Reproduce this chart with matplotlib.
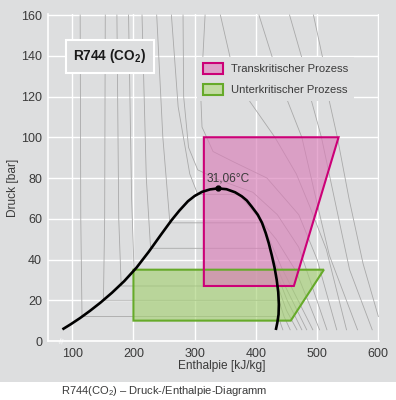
import matplotlib
matplotlib.use('Agg')
import matplotlib.pyplot as plt
from matplotlib.patches import Polygon, Patch, Rectangle
from matplotlib import font_manager

names = {f.name for f in font_manager.fontManager.ttflist}
FONT = 'Liberation Sans Narrow' if 'Liberation Sans Narrow' in names else 'Liberation Sans'
NARROW = FONT == 'Liberation Sans Narrow'
plt.rcParams['font.family'] = [FONT, 'DejaVu Sans']
plt.rcParams['mathtext.fontset'] = 'custom'
plt.rcParams['mathtext.rm'] = FONT
plt.rcParams['mathtext.bf'] = FONT + ':bold'

# ---------------- data ----------------
x_ticks = [100, 200, 300, 400, 500, 600]
y_ticks = [0, 20, 40, 60, 80, 100, 120, 140, 160]

# saturation (two-phase) curve, enthalpy [kJ/kg] / pressure [bar]
sat_h = [84, 98, 113, 129, 146, 165, 185, 205, 225, 245, 262, 275, 289, 300, 312, 325, 338,
         352, 366, 377, 385, 393, 403, 410, 416, 421, 426, 430.5, 434, 436.5, 437.5,
         437, 435, 432.5]
sat_p = [5.7, 8.3, 11.3, 14.8, 18.8, 23.7, 29.4, 36.0, 43.8, 52.2, 59.2, 64.0, 68.6, 71.2,
         73.2, 74.4, 74.9, 74.5, 73, 71, 69, 66, 62, 58, 53, 48, 42, 36, 30, 24, 18, 13, 9, 5.4]
crit_h = [338]
crit_p = [74.9]
crit_label = '31,06°C'

# process areas
trans_h = [315, 315, 535, 462]
trans_p = [27, 100, 100, 27]
sub_h = [200, 200, 511, 457]
sub_p = [10, 35, 35, 10]

# background isotherms (h lists / p lists)
iso_h = [
    [113, 114, 116, 437, 441, 444],
    [154, 153, 151, 437.5, 446, 456],
    [173, 176, 180, 435.5, 450, 467],
    [192, 197, 201, 431.5, 451, 475],
    [214, 221, 228, 421.5, 446, 483],
    [238, 248, 259.5, 410, 442, 493],
    [262, 273, 292, 305, 372, 400, 433, 466, 504],
    [281, 282, 290, 305, 340, 395, 435, 470, 516],
    [317, 310, 312, 330, 363, 418, 470, 500, 532],
    [342, 358, 390, 431, 466, 488, 515, 548],
    [405, 427, 452, 475, 498, 520, 566],
    [455, 475, 491, 507, 531, 553, 590],
    [494, 509, 520, 533, 552, 575, 600],
]
iso_p = [
    [160, 60, 12, 12, 8, 5.5],
    [160, 60, 20, 20, 12, 5.5],
    [160, 60, 27, 27, 15, 5.5],
    [160, 70, 35, 35, 20, 5.5],
    [160, 80, 45.5, 45.5, 28, 5.5],
    [160, 100, 58, 58, 36, 5.5],
    [160, 115, 82, 72, 72, 62, 50, 34, 5.5],
    [160, 120, 95, 84, 79, 73, 62, 46, 5.5],
    [160, 120, 105, 93, 88, 80, 62, 40, 5.5],
    [160, 139, 117.6, 100, 82, 66, 45, 5.5],
    [160, 139, 117.6, 100, 70, 42, 5.5],
    [160, 139, 117.6, 100, 66, 35, 5.5],
    [160, 139, 117.6, 100, 70, 38, 12],
]

labels = ['Transkritischer Prozess', 'Unterkritischer Prozess']

# ---------------- style ----------------
BG = '#dddedf'
TXT = '#3a3a3a'
PINK_FC = '#d97fb8'
PINK_EC = '#cc0077'
GREEN_FC = '#a3d070'
GREEN_EC = '#66aa2a'
k = 1.15 if NARROW else 1.0
FS_TICK = 9.0 * k
FS_LAB = 8.6 * k
FS_LEG = 8.1 * k
FS_TITLE = 9.8 * k
FS_CAP = 8.0 * k

fig = plt.figure(figsize=(3.96, 4.0), dpi=100, facecolor=BG)
fig.patches.append(Rectangle((0, 0), 1, 18 / 400, transform=fig.transFigure,
                             fc='white', ec='none', zorder=-1))
ax = fig.add_axes([0.1205, 0.1475, 0.8365, 0.8175])
ax.set_facecolor(BG)
ax.set_xlim(60, 601)
ax.set_ylim(0, 160.5)
for s in ['top', 'right']:
    ax.spines[s].set_visible(False)
for s in ['left', 'bottom']:
    ax.spines[s].set_color('white')
    ax.spines[s].set_linewidth(1.2)
ax.set_xticks(x_ticks)
ax.set_yticks(y_ticks)
ax.grid(True, color='white', lw=1.0)
ax.set_axisbelow(True)
ax.tick_params(length=0, labelsize=FS_TICK, colors=TXT)
ax.tick_params(axis='x', pad=5)
ax.tick_params(axis='y', pad=4)

for h, p in zip(iso_h, iso_p):
    ax.plot(h, p, color='#a9a9a9', lw=0.6, zorder=1)

ax.add_patch(Polygon(list(zip(sub_h, sub_p)), closed=True, fc=GREEN_FC, ec='none', alpha=0.62, zorder=3))
ax.add_patch(Polygon(list(zip(trans_h, trans_p)), closed=True, fc=PINK_FC, ec='none', alpha=0.66, zorder=3.5))
ax.add_patch(Polygon(list(zip(sub_h, sub_p)), closed=True, fill=False, ec=GREEN_EC, lw=1.5, zorder=4))
ax.add_patch(Polygon(list(zip(trans_h, trans_p)), closed=True, fill=False, ec=PINK_EC, lw=1.5, zorder=4.5))

ax.plot(sat_h, sat_p, color='black', lw=1.9, zorder=5, solid_capstyle='butt', solid_joinstyle='round')
ax.plot(crit_h, crit_p, 'o', color='black', ms=3.5, zorder=6)
ax.text(320, 77, crit_label, fontsize=FS_LAB, color=TXT, ha='left', va='bottom', zorder=6)

ax.text(161, 139.8, r'R744 (CO$_\mathbf{2}$)', fontsize=FS_TITLE, fontweight='bold', color='#1a1a1a',
        ha='center', va='center', zorder=7,
        bbox=dict(boxstyle='square,pad=0.55', fc=BG, ec='white', lw=1.5))

handles = [Patch(fc=(0.87, 0.63, 0.79), ec=PINK_EC, lw=1.5, label=labels[0]),
           Patch(fc=(0.76, 0.86, 0.64), ec=GREEN_EC, lw=1.5, label=labels[1])]
leg = ax.legend(handles=handles, loc='upper left', bbox_to_anchor=(0.4507, 0.8685),
                frameon=True, facecolor=BG, edgecolor='none', framealpha=1, fancybox=False,
                fontsize=FS_LEG, handlelength=1.8, handleheight=1.15, handletextpad=0.7,
                labelspacing=0.85, borderpad=0.5, borderaxespad=0)
for t in leg.get_texts():
    t.set_color(TXT)
leg.set_zorder(7)

ax.set_xlabel('Enthalpie [kJ/kg]', fontsize=FS_LAB, color=TXT)
ax.set_ylabel('Druck [bar]', fontsize=FS_LAB, color=TXT)
ax.xaxis.set_label_coords(0.526, -0.058)
ax.yaxis.set_label_coords(-0.088, 0.468)

ax.text(84, 0, '\u2248', rotation=75, color='white', fontsize=8, ha='center', va='center',
        clip_on=False, zorder=8)

fig.text(61 / 396, 1 - 391.5 / 400, r'R744(CO$_2$) – Druck-/Enthalpie-Diagramm',
         fontsize=FS_CAP, color=TXT, ha='left', va='center')

fig.savefig('out.png', dpi=100, facecolor=fig.get_facecolor())
